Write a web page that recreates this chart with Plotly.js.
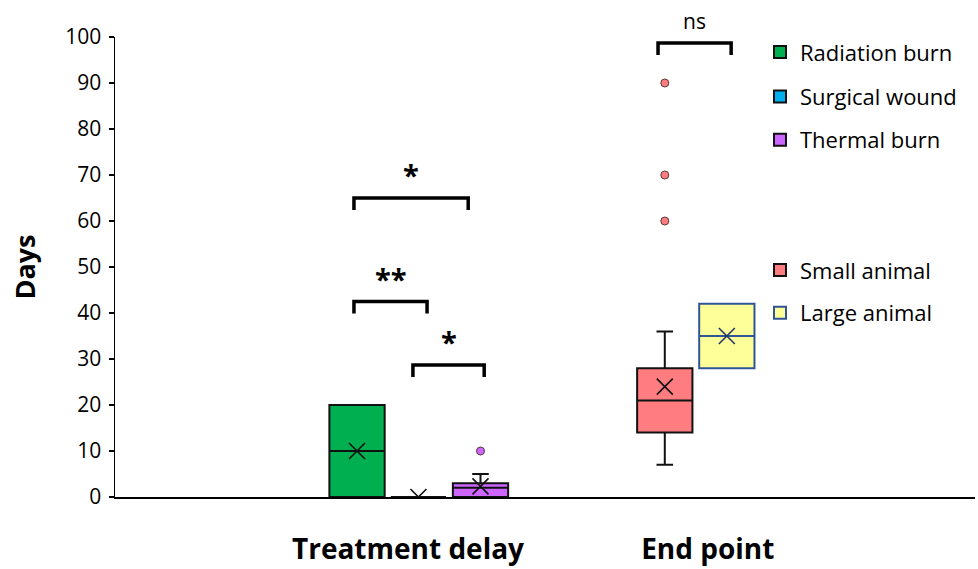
<!DOCTYPE html>
<html>
<head>
<meta charset="utf-8">
<script src="https://cdn.plot.ly/plotly-3.0.1.min.js"></script>
<style>html,body{margin:0;padding:0;background:#fff}#chart{width:978px;height:569px}</style>
</head>
<body>
<div id="chart"></div>
<script>
// ---- data ----
const categories = ['Treatment delay', 'End point'];
const seriesNames = ['Radiation burn', 'Surgical wound', 'Thermal burn', 'Small animal', 'Large animal'];
const q1Values = [0, 0, 0, 14, 28];
const medianValues = [10, 0, 2, 21, 35];
const q3Values = [20, 0, 3, 28, 42];
const lowerWhisker = [0, 0, 0, 7, 28];
const upperWhisker = [20, 0, 5, 36, 42];
const meanValues = [10, 0, 2.3, 24, 35];
const outlierValues = [[], [], [10], [60, 70, 90], []];
const sigLabels = ['*', '**', '*', 'ns'];
const sigLevels = [65, 42.5, 28.7, 98.7];

// ---- positions & styles ----
const boxPos = [3.94, 4.94, 5.95, 8.95, 9.96];
const catPos = [4.77, 9.65];
const sigSpans = [[3.89, 5.75], [3.89, 5.08], [4.85, 6.01], [8.84, 10.03]];
const sigDrop = 2.6;
const fills = ['#00B050', '#00B0F0', '#CC66FF', '#FF7C80', '#FFFF99'];
const lines = ['#111111', '#111111', '#111111', '#111111', '#2F5597'];
const meanColors = ['#111111', '#111111', '#111111', '#111111', '#203864'];
const legendY = [0.967, 0.870, 0.776, 0.493, 0.400];
const FONT = 'Open Sans, Noto Sans, sans-serif';

const traces = [];
seriesNames.forEach((name, i) => {
  const lg = i === 0 ? 'legend' : 'legend' + (i + 1);
  traces.push({
    type: 'box', name: name, x: [boxPos[i]],
    q1: [q1Values[i]], median: [medianValues[i]], q3: [q3Values[i]],
    lowerfence: [lowerWhisker[i]], upperfence: [upperWhisker[i]],
    width: 0.9, whiskerwidth: 0.3,
    fillcolor: fills[i], line: {color: lines[i], width: 2},
    boxpoints: false, legend: lg, hoverinfo: 'skip'
  });
  if (outlierValues[i].length) {
    traces.push({
      type: 'scatter', mode: 'markers', showlegend: false,
      x: outlierValues[i].map(() => boxPos[i]), y: outlierValues[i],
      marker: {symbol: 'circle', size: 8, color: fills[i], line: {color: '#5a3a3a', width: 1}}
    });
  }
});
traces.push({
  type: 'scatter', mode: 'markers', showlegend: false,
  x: boxPos, y: meanValues,
  marker: {symbol: 'x-thin-open', size: 16, line: {color: meanColors, width: 1.6}, color: meanColors}
});

const shapes = sigLabels.map((_, i) => {
  const [a, b] = sigSpans[i], y = sigLevels[i];
  return {type: 'path', xref: 'x', yref: 'y',
    path: `M${a},${y - sigDrop} L${a},${y} L${b},${y} L${b},${y - sigDrop}`,
    line: {color: '#000', width: 3.5}};
});
const annotations = sigLabels.map((t, i) => ({
  x: (sigSpans[i][0] + sigSpans[i][1]) / 2, y: sigLevels[i], xref: 'x', yref: 'y',
  text: t, showarrow: false, yanchor: 'bottom', yshift: t === 'ns' ? 6 : 2,
  font: t === 'ns' ? {family: FONT, size: 21, color: '#000'} : {family: FONT, size: 29, color: '#000', weight: 700}
}));

const layout = {
  width: 978, height: 569,
  margin: {l: 115, r: 3, t: 37, b: 72},
  paper_bgcolor: '#fff', plot_bgcolor: '#fff',
  font: {family: FONT, color: '#000'},
  xaxis: {range: [0, 14], showgrid: false, zeroline: false, showline: true,
    linecolor: '#000', linewidth: 1.5, ticks: '', tickvals: catPos, ticktext: categories,
    tickfont: {family: FONT, size: 28, weight: 700, color: '#000'}, ticklabelstandoff: 27},
  yaxis: {range: [0, 100], dtick: 10, showgrid: false, zeroline: false, showline: true,
    linecolor: '#000', linewidth: 1.5, ticks: 'outside', ticklen: 5, tickwidth: 1.5, tickcolor: '#000',
    tickfont: {family: FONT, size: 21, color: '#000'}, ticklabelstandoff: 3,
    title: {text: 'Days', standoff: 22, font: {family: FONT, size: 27, weight: 700, color: '#000'}}},
  shapes: shapes, annotations: annotations, showlegend: true
};
seriesNames.forEach((n, i) => {
  const key = i === 0 ? 'legend' : 'legend' + (i + 1);
  layout[key] = {x: 0.75, xanchor: 'left', y: legendY[i], yanchor: 'middle',
    bgcolor: 'rgba(0,0,0,0)', font: {family: FONT, size: 22, color: '#000'}};
});
Plotly.newPlot('chart', traces, layout, {displayModeBar: false, staticPlot: true});
</script>
</body>
</html>
